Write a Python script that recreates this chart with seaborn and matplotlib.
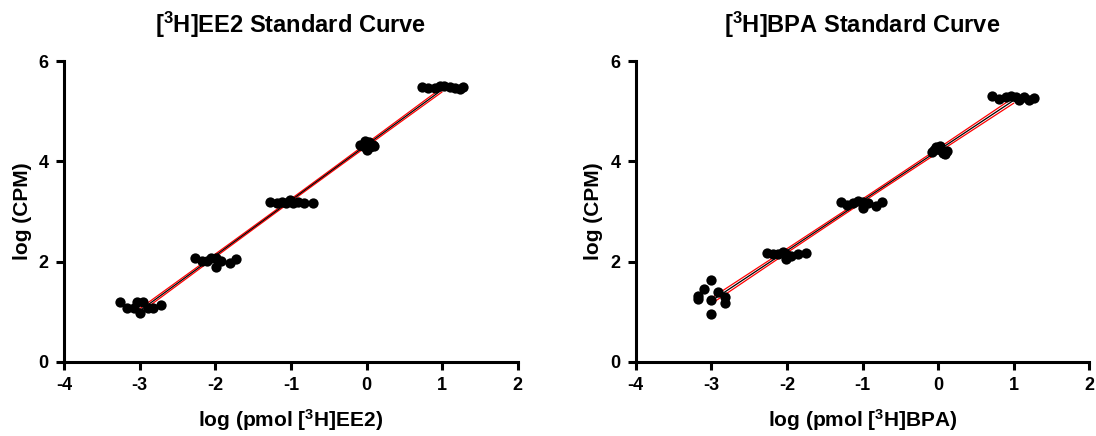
import numpy as np
import pandas as pd
import matplotlib
matplotlib.use("Agg")
import matplotlib.pyplot as plt
import seaborn as sns

# ---- data ----
levels = [-3, -2, -1, 0, 1]
reps = 9

ee2_x = [-3.26, -3.17, -3.08, -3.04, -2.95, -3.00, -2.89, -2.82, -2.72,
         -2.27, -2.18, -2.11, -2.05, -1.99, -1.99, -1.92, -1.81, -1.72,
         -1.28, -1.19, -1.12, -1.06, -1.01, -0.97, -0.90, -0.82, -0.71,
         -0.08, -0.04, -0.02, 0.00, 0.01, 0.03, 0.05, 0.08, 0.10,
         0.73, 0.81, 0.90, 0.97, 1.03, 1.10, 1.17, 1.23, 1.28]
ee2_y = [1.20, 1.07, 1.07, 1.20, 1.20, 0.97, 1.07, 1.07, 1.13,
         2.08, 2.02, 2.02, 2.08, 2.08, 1.90, 2.02, 1.98, 2.05,
         3.18, 3.17, 3.18, 3.17, 3.22, 3.17, 3.18, 3.17, 3.17,
         4.33, 4.30, 4.40, 4.22, 4.35, 4.38, 4.28, 4.32, 4.31,
         5.48, 5.46, 5.47, 5.50, 5.50, 5.49, 5.46, 5.44, 5.48]

bpa_x = [-3.01, -3.10, -3.18, -3.18, -2.91, -3.00, -2.82, -2.82, -3.01,
         -2.27, -2.19, -2.12, -2.05, -2.01, -2.01, -1.94, -1.86, -1.75,
         -1.28, -1.20, -1.13, -1.06, -1.00, -1.00, -0.93, -0.82, -0.74,
         -0.08, -0.05, -0.03, 0.00, 0.02, 0.04, 0.06, 0.09, 0.12,
         0.71, 0.81, 0.90, 0.96, 1.03, 1.07, 1.14, 1.20, 1.27]
bpa_y = [1.63, 1.45, 1.32, 1.25, 1.40, 1.24, 1.30, 1.17, 0.95,
         2.17, 2.15, 2.15, 2.20, 2.15, 2.05, 2.12, 2.15, 2.17,
         3.18, 3.12, 3.16, 3.20, 3.06, 3.18, 3.16, 3.11, 3.18,
         4.18, 4.22, 4.28, 4.25, 4.30, 4.22, 4.17, 4.15, 4.20,
         5.30, 5.24, 5.28, 5.31, 5.28, 5.22, 5.28, 5.22, 5.27]

x_ticks = [-4, -3, -2, -1, 0, 1, 2]
y_ticks = [0, 2, 4, 6]

titles = [r"[$\mathbf{^3}$H]EE2 Standard Curve", r"[$\mathbf{^3}$H]BPA Standard Curve"]
xlabels = [r"log (pmol [$\mathbf{^3}$H]EE2)", r"log (pmol [$\mathbf{^3}$H]BPA)"]
ylabel = "log (CPM)"

# ---- style ----
sns.set_theme(style="ticks")
plt.rcParams["font.family"] = ["Liberation Sans", "DejaVu Sans"]
plt.rcParams["font.weight"] = "bold"
plt.rcParams["text.color"] = "black"
plt.rcParams["axes.labelcolor"] = "black"
plt.rcParams["axes.labelweight"] = "bold"
plt.rcParams["axes.titleweight"] = "bold"
plt.rcParams["mathtext.fontset"] = "custom"
plt.rcParams["mathtext.rm"] = "Liberation Sans:bold"
plt.rcParams["mathtext.bf"] = "Liberation Sans:bold"
plt.rcParams["mathtext.it"] = "Liberation Sans:bold"

fig = plt.figure(figsize=(10.96, 4.36), dpi=100)
ax_pos = [[0.0584, 0.170, 0.414, 0.690], [0.580, 0.170, 0.414, 0.690]]

datasets = [(ee2_x, ee2_y), (bpa_x, bpa_y)]

for i, (xs, ys) in enumerate(datasets):
    ax = fig.add_axes(ax_pos[i])
    df = pd.DataFrame({"x": xs, "y": ys})
    # regression on nominal dose levels
    x = np.repeat(levels, reps).astype(float)
    y = np.array(ys)
    n = len(x)
    slope, icpt = np.polyfit(x, y, 1)
    resid = y - (slope * x + icpt)
    s = np.sqrt(np.sum(resid ** 2) / (n - 2))
    xm = x.mean()
    sxx = np.sum((x - xm) ** 2)
    xl = np.linspace(min(levels), max(levels), 200)
    yl = slope * xl + icpt
    se = s * np.sqrt(1.0 / n + (xl - xm) ** 2 / sxx)
    t = 2.017
    line_df = pd.DataFrame({"x": xl, "fit": yl, "lo": yl - t * se, "hi": yl + t * se})

    sns.lineplot(data=line_df, x="x", y="lo", color="red", lw=0.9, ax=ax, zorder=2)
    sns.lineplot(data=line_df, x="x", y="hi", color="red", lw=0.9, ax=ax, zorder=2)
    sns.lineplot(data=line_df, x="x", y="fit", color="black", lw=0.9, ax=ax, zorder=3)
    sns.scatterplot(data=df, x="x", y="y", color="black", s=55, edgecolor="black",
                    linewidth=0, ax=ax, zorder=4, clip_on=False)

    ax.set_xlim(-4, 2)
    ax.set_ylim(0, 6)
    ax.set_xticks(x_ticks)
    ax.set_yticks(y_ticks)
    ax.set_xticklabels([str(v) for v in x_ticks], fontsize=13, fontweight="bold")
    ax.set_yticklabels([str(v) for v in y_ticks], fontsize=13, fontweight="bold")
    ax.set_xlabel(xlabels[i], fontsize=15, fontweight="bold", labelpad=9)
    ax.set_ylabel(ylabel, fontsize=15, fontweight="bold", labelpad=5)
    ax.set_title(titles[i], fontsize=17, fontweight="bold", pad=20)
    for sp in ["top", "right"]:
        ax.spines[sp].set_visible(False)
    for sp in ["left", "bottom"]:
        ax.spines[sp].set_linewidth(2.2)
        ax.spines[sp].set_color("black")
    ax.tick_params(axis="both", which="major", direction="out", length=6, width=2.2,
                   color="black", labelcolor="black", pad=5)

fig.savefig("out.png", dpi=100)
